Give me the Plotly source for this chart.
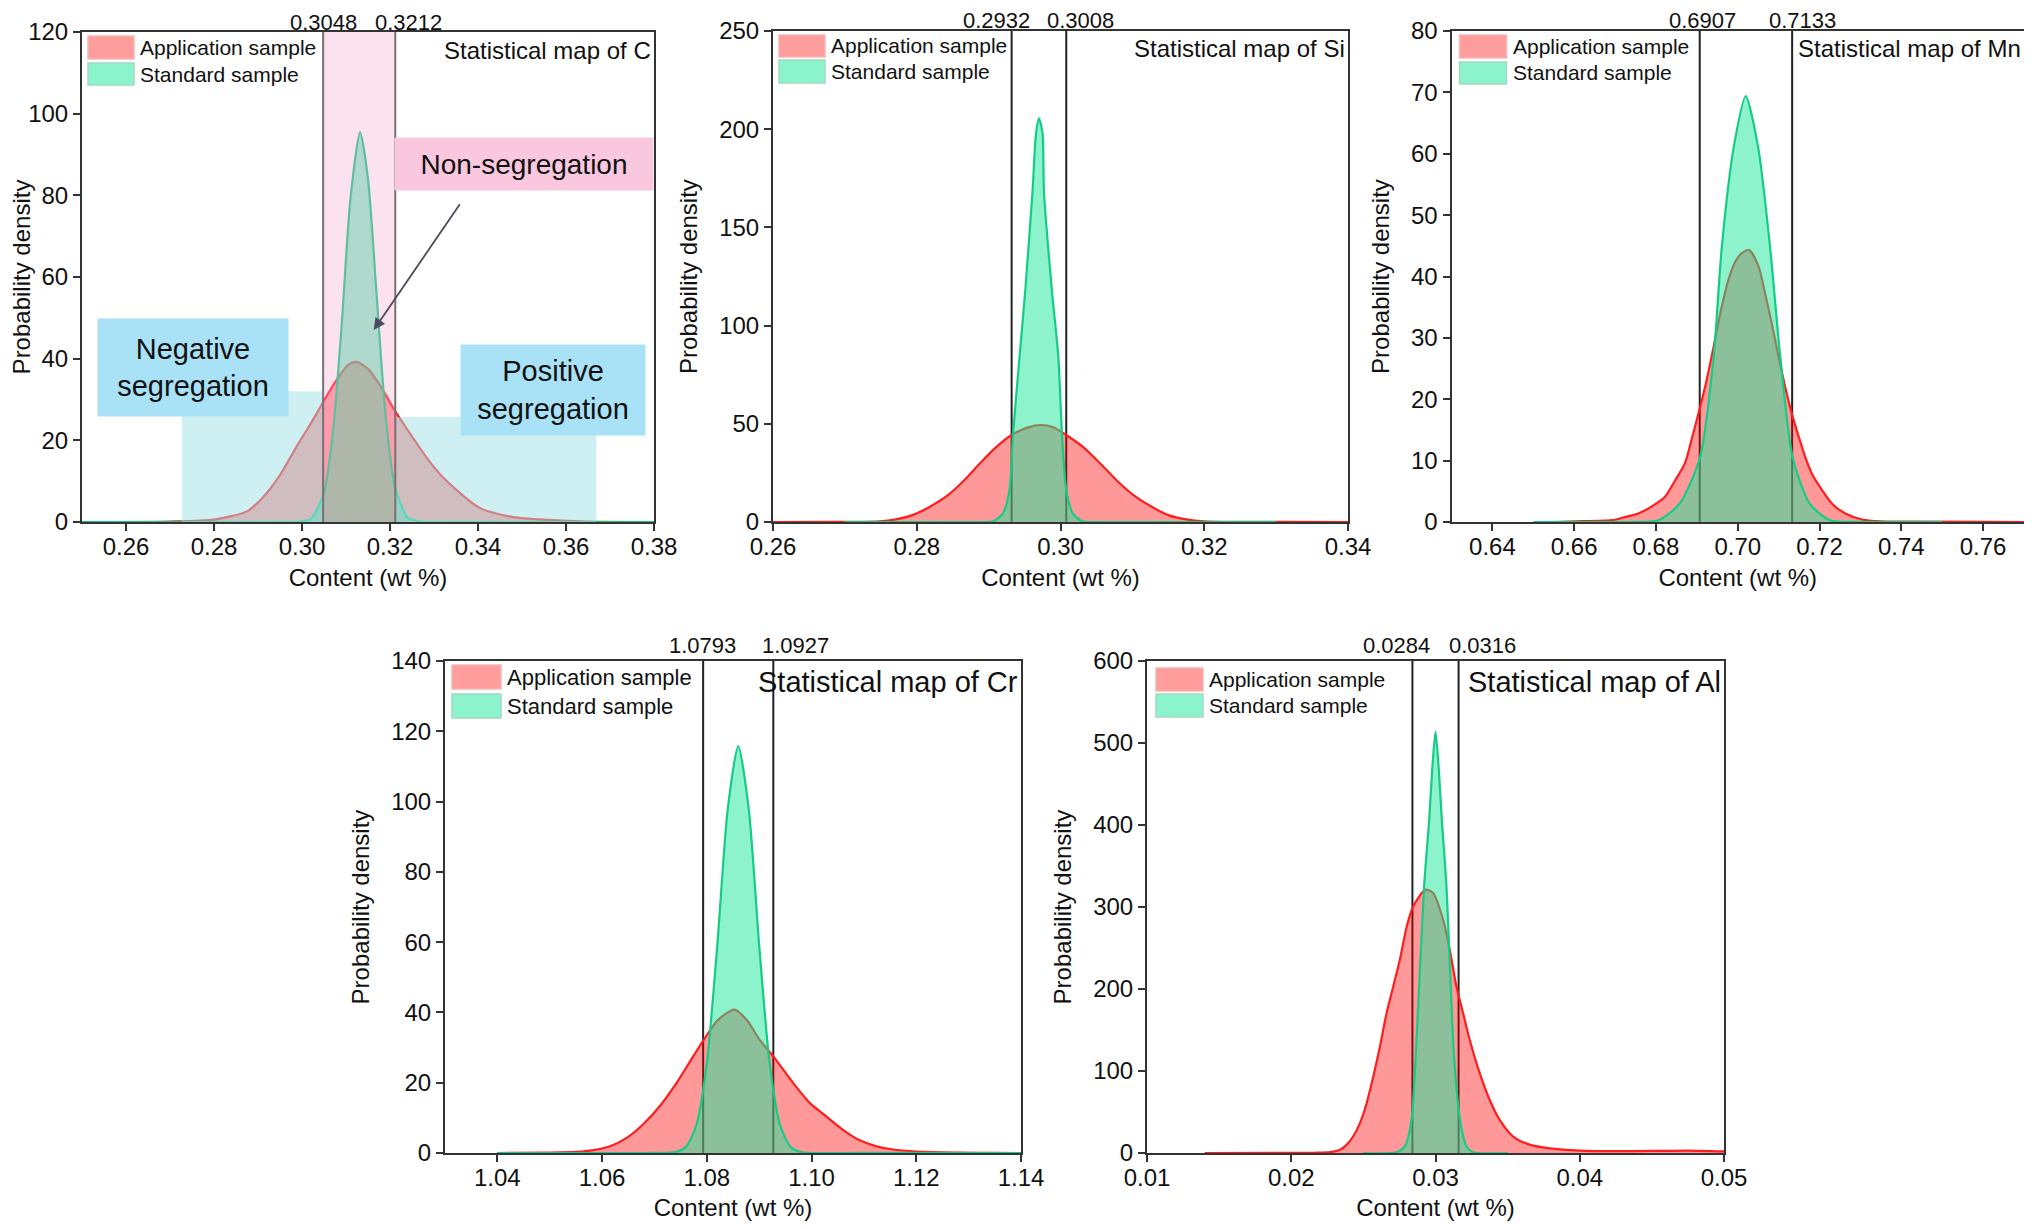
import plotly.graph_objects as go

# the page body adds an 8 px margin, so the figure is drawn 8 px in from the window corner
PAGE_OFFSET = 8
W, H = 2032 - 2 * PAGE_OFFSET, 1229 - 2 * PAGE_OFFSET
FONT = "Liberation Sans, Arial, sans-serif"

# ---------------- data ----------------
elements = ["C", "Si", "Mn", "Cr", "Al"]

# C
c_app_x = [0.25, 0.27, 0.28, 0.2875, 0.291, 0.295, 0.299, 0.3025, 0.3048, 0.308, 0.3105, 0.3124,
           0.315, 0.318, 0.3208, 0.3253, 0.329, 0.333, 0.3405, 0.348, 0.356, 0.365, 0.38]
c_app_y = [0, 0.1, 0.6, 2.6, 5.9, 11.5, 18.9, 25, 29.4, 35, 38.5, 39.2,
           37.5, 33, 27.8, 20.5, 14.8, 9.9, 3.4, 1.2, 0.5, 0.1, 0]
c_std_x = [0.25, 0.295, 0.299, 0.302, 0.305, 0.307, 0.309, 0.311, 0.3132, 0.315, 0.317, 0.319,
           0.3211, 0.324, 0.327, 0.331, 0.38]
c_std_y = [0, 0, 0.05, 0.75, 7.2, 21.7, 48, 79, 95.5, 84, 55, 26,
           8.7, 1.1, 0.07, 0, 0]

# Si
si_app_x = [0.26, 0.270, 0.2748, 0.2771, 0.2794, 0.2817, 0.2841, 0.2864, 0.2887, 0.2910, 0.2932,
            0.2955, 0.2972, 0.2990, 0.3008, 0.3032, 0.3056, 0.3080, 0.3104, 0.3128, 0.3150, 0.3175,
            0.320, 0.325, 0.34]
si_app_y = [0, 0.05, 0.3, 1.3, 3.5, 7.5, 13, 20.5, 29.5, 38, 44.3,
            48.2, 49.4, 48.2, 44.3, 38, 29.5, 20.5, 13, 7.5, 3.5, 1.3,
            0.3, 0.05, 0]
si_std_x = [0.27, 0.2887, 0.2906, 0.2920, 0.2929, 0.2934, 0.2943, 0.2951, 0.2961, 0.2966, 0.2970,
            0.2975, 0.2977, 0.2988, 0.2997, 0.3002, 0.3008, 0.3017, 0.3031, 0.305, 0.33]
si_std_y = [0, 0, 0.2, 4.4, 16.3, 45, 84, 118, 168, 198, 205.5,
            198, 168, 118, 84, 45, 16.3, 4.4, 0.2, 0, 0]

# Mn
mn_app_x = [0.655, 0.660, 0.6692, 0.6724, 0.6757, 0.6789, 0.6822, 0.6847, 0.6871, 0.6887, 0.6904,
            0.6920, 0.6936, 0.6949, 0.6961, 0.6977, 0.6994, 0.7010, 0.7028, 0.7051, 0.7067, 0.7083,
            0.7100, 0.7116, 0.7132, 0.7149, 0.7165, 0.7181, 0.7206, 0.7230, 0.7263, 0.7304, 0.7350,
            0.745, 0.770]
mn_app_y = [0, 0.1, 0.3, 0.8, 1.4, 2.5, 4.1, 6.8, 9.6, 13.4, 17.7,
            22, 26.9, 31.3, 35.1, 39.4, 42.4, 43.8, 44.3, 41.6, 37.2, 32.4,
            26.9, 22, 17.7, 13.9, 10.6, 7.9, 5.2, 3, 1.4, 0.4, 0.1,
            0.05, 0]
mn_std_x = [0.650, 0.675, 0.6807, 0.6858, 0.6908, 0.6941, 0.6961, 0.6990, 0.70195, 0.7050, 0.7079,
            0.7104, 0.7134, 0.7176, 0.7225, 0.730, 0.750]
mn_std_y = [0, 0.02, 0.3, 3, 10.6, 26.9, 44.8, 61, 69.4, 61, 44.8,
            26.9, 10.6, 3, 0.3, 0.02, 0]

# Cr
cr_app_x = [1.040, 1.050, 1.0551, 1.0583, 1.0615, 1.0647, 1.0678, 1.0710, 1.0742, 1.0774, 1.0794,
            1.0819, 1.0838, 1.0853, 1.0876, 1.0901, 1.0927, 1.0965, 1.0997, 1.1028, 1.1060, 1.1092,
            1.1124, 1.1156, 1.1219, 1.1283, 1.135, 1.140]
cr_app_y = [0, 0.1, 0.3, 0.8, 1.9, 4.3, 8.1, 13.3, 19.9, 27.5, 32.2,
            37.5, 39.8, 40.8, 37.9, 32.2, 27.5, 19.9, 14.2, 10.4, 6.6, 3.6,
            1.9, 1.0, 0.3, 0.1, 0.02, 0]
cr_std_x = [1.040, 1.070, 1.074, 1.076, 1.078, 1.080, 1.082, 1.084, 1.086, 1.088, 1.090,
            1.092, 1.094, 1.096, 1.098, 1.110, 1.140]
cr_std_y = [0, 0.01, 0.27, 1.74, 7.9, 25.5, 59.1, 97.9, 115.8, 97.9, 59.1,
            25.5, 7.9, 1.74, 0.27, 0.01, 0]

# Al
al_app_x = [0.014, 0.020, 0.0216, 0.0227, 0.02339, 0.02385, 0.0243, 0.02477, 0.02523, 0.02569,
            0.02615, 0.02661, 0.02707, 0.02753, 0.0280, 0.02845, 0.02929, 0.02983, 0.03053, 0.03099,
            0.03145, 0.03191, 0.03237, 0.03306, 0.03375, 0.03444, 0.03536, 0.03652, 0.03767,
            0.03882, 0.03997, 0.0425, 0.045, 0.0475, 0.050]
al_app_y = [0, 0.1, 0.3, 1, 4.1, 10.2, 20.4, 36.7, 61, 93.5,
            130, 170.7, 203, 235.6, 276, 300.6, 321, 317, 284.4, 247.8,
            203, 170.7, 138.2, 97.6, 65, 40.7, 20.4, 10.2, 6.2,
            4.1, 2.9, 2.2, 2.5, 3, 2]
al_std_x = [0.025, 0.0273, 0.02788, 0.02834, 0.02864, 0.02921, 0.02956, 0.02977, 0.0300, 0.03023,
            0.03044, 0.03076, 0.03127, 0.0317, 0.03214, 0.0326, 0.035]
al_std_y = [0, 1, 8.2, 40.7, 122, 325, 406, 467, 513.8, 467,
            406, 325, 122, 40.7, 8.2, 1, 0]

# thresholds (non-segregation interval)
c_limits = [0.3048, 0.3212]
si_limits = [0.2932, 0.3008]
mn_limits = [0.6907, 0.7133]
cr_limits = [1.0793, 1.0927]
al_limits = [0.0284, 0.0316]
limit_labels = [["0.3048", "0.3212"], ["0.2932", "0.3008"], ["0.6907", "0.7133"],
                ["1.0793", "1.0927"], ["0.0284", "0.0316"]]

# axis ranges / ticks
x_ranges = [[0.25, 0.38], [0.26, 0.34], [0.63, 0.77], [1.03, 1.14], [0.01, 0.05]]
x_ticks = [[0.26, 0.28, 0.30, 0.32, 0.34, 0.36, 0.38],
           [0.26, 0.28, 0.30, 0.32, 0.34],
           [0.64, 0.66, 0.68, 0.70, 0.72, 0.74, 0.76],
           [1.04, 1.06, 1.08, 1.10, 1.12, 1.14],
           [0.01, 0.02, 0.03, 0.04, 0.05]]
y_ranges = [[0, 120], [0, 250], [0, 80], [0, 140], [0, 600]]
y_dticks = [20, 50, 10, 20, 100]

series_names = ["Application sample", "Standard sample"]

app_x = [c_app_x, si_app_x, mn_app_x, cr_app_x, al_app_x]
app_y = [c_app_y, si_app_y, mn_app_y, cr_app_y, al_app_y]
std_x = [c_std_x, si_std_x, mn_std_x, cr_std_x, al_std_x]
std_y = [c_std_y, si_std_y, mn_std_y, cr_std_y, al_std_y]
limits = [c_limits, si_limits, mn_limits, cr_limits, al_limits]

# ---------------- layout geometry (window pixels) ----------------
# (left, right, top, bottom) of each plotting frame
frames = [(82, 654, 32, 522), (773, 1348, 31, 522), (1451.5, 2024, 31, 522),
          (445, 1021, 661, 1153), (1147, 1724, 661, 1153)]

RED_LINE = "#FF1E1E"
RED_FILL = "rgba(255,0,0,0.40)"
GRN_LINE = "#15CC85"
GRN_FILL = "rgba(26,232,155,0.50)"
AX = "#333333"

fig = go.Figure()
shapes = []
annotations = []

for i, el in enumerate(elements):
    n = "" if i == 0 else str(i + 1)
    xa, ya = "x" + n, "y" + n
    L, R, T, B = [v - PAGE_OFFSET for v in frames[i]]
    fig.add_trace(go.Scatter(x=app_x[i], y=app_y[i], mode="lines", fill="tozeroy",
                             fillcolor=RED_FILL,
                             line=dict(color=RED_LINE, width=2.2, shape="spline", smoothing=0.7),
                             name=series_names[0], showlegend=False, xaxis=xa, yaxis=ya))
    fig.add_trace(go.Scatter(x=std_x[i], y=std_y[i], mode="lines", fill="tozeroy",
                             fillcolor=GRN_FILL,
                             line=dict(color=GRN_LINE, width=2.2, shape="spline", smoothing=0.7),
                             name=series_names[1], showlegend=False, xaxis=xa, yaxis=ya))

    big = i >= 3
    fig.layout["xaxis" + n] = dict(
        domain=[max(0, L / W), min(1, R / W)], anchor=ya, range=x_ranges[i], tickvals=x_ticks[i],
        tickformat=".2f", ticks="outside", ticklen=7, tickwidth=2, tickcolor=AX,
        ticklabelstandoff=-5,
        showline=True, linecolor=AX, linewidth=2, mirror=True, showgrid=False, zeroline=False,
        automargin=False,
        tickfont=dict(family=FONT, size=24, color="#111"),
        title=dict(text="Content (wt %)", font=dict(family=FONT, size=24, color="#111"), standoff=10),
    )
    fig.layout["yaxis" + n] = dict(
        domain=[max(0, 1 - B / H), min(1, 1 - T / H)], anchor=xa, range=y_ranges[i], dtick=y_dticks[i],
        ticks="outside", ticklen=7, tickwidth=2, tickcolor=AX,
        showline=True, linecolor=AX, linewidth=2, mirror=True, showgrid=False, zeroline=False,
        automargin=False,
        tickfont=dict(family=FONT, size=24, color="#111"),
        title=dict(text="Probability density", font=dict(family=FONT, size=24, color="#111"), standoff=15),
    )

    # threshold lines
    lc = "#7a6f74" if i == 0 else "#222222"
    for t in limits[i]:
        shapes.append(dict(type="line", xref=xa, yref=ya + " domain", x0=t, x1=t, y0=0, y1=1,
                           line=dict(color=lc, width=2), layer="below" if i else "above"))
    # threshold labels
    shifts = [[0, 13], [-15, 14], [3, 10], [-1, 22], [-16, 24]][i]
    for t, lab, s in zip(limits[i], limit_labels[i], shifts):
        annotations.append(dict(x=t, y=1, xref=xa, yref=ya + " domain", text=lab, showarrow=False,
                                xanchor="center", yanchor="middle", xshift=s, borderpad=0,
                                yshift=16 if big else 10,
                                font=dict(family=FONT, size=22, color="#111")))
    # panel title
    annotations.append(dict(x=1, y=1, xref=xa + " domain", yref=ya + " domain",
                            text="Statistical map of " + el, showarrow=False,
                            xanchor="right", yanchor="middle", xshift=-1,
                            yshift=-21 if big else -18,
                            font=dict(family=FONT, size=29 if big else 24, color="#111")))
    # legend (swatches + text)
    sw = [(6, 52, 4, 27, 31, 53, 56, 21), (6, 52, 4, 26, 29, 52, 56, 21), (8, 55, 4, 27, 31, 53, 59, 21),
          (7, 56, 4, 28, 33, 57, 60, 22), (9, 56, 7, 30, 33, 56, 60, 21)][i]
    x0s, x1s, a0, a1, b0, b1, tx, fs = sw
    for (y0, y1, fc, lcol, name) in [(a0, a1, "#FF9C9C", "#F3B7B7", series_names[0]),
                                     (b0, b1, "#8CF4CC", "#A3D9C2", series_names[1])]:
        shapes.append(dict(type="rect", xref=xa + " domain", yref=ya + " domain",
                           xsizemode="pixel", ysizemode="pixel", xanchor=0, yanchor=1,
                           x0=x0s, x1=x1s, y0=-y0, y1=-y1, fillcolor=fc,
                           line=dict(color=lcol, width=1.5), layer="above"))
        annotations.append(dict(x=0, y=1, xref=xa + " domain", yref=ya + " domain", text=name,
                                showarrow=False, xanchor="left", yanchor="middle",
                                xshift=tx, yshift=-(y0 + y1) / 2,
                                font=dict(family=FONT, size=fs, color="#111")))

# ---------------- panel C decorations ----------------
shapes.insert(0, dict(type="rect", xref="x", yref="y", x0=0.2727, x1=0.3048, y0=0, y1=32,
                      fillcolor="rgba(160,225,232,0.50)", line=dict(width=0), layer="above"))
shapes.insert(0, dict(type="rect", xref="x", yref="y", x0=0.3212, x1=0.3669, y0=0, y1=25.7,
                      fillcolor="rgba(160,225,232,0.50)", line=dict(width=0), layer="above"))
shapes.insert(0, dict(type="rect", xref="x", yref="y domain", x0=0.3048, x1=0.3212, y0=0, y1=1,
                      fillcolor="rgba(245,165,205,0.33)", line=dict(width=0), layer="above"))

annotations += [
    dict(x=0.2752, y=37.9, xref="x", yref="y", text="Negative<br>segregation", showarrow=False,
         width=190, height=97, bgcolor="#A9E2F6", borderpad=0,
         font=dict(family=FONT, size=29, color="#111")),
    dict(x=0.3570, y=32.25, xref="x", yref="y", text="Positive<br>segregation", showarrow=False,
         width=184, height=90, bgcolor="#A9E2F6", borderpad=0,
         font=dict(family=FONT, size=29, color="#111")),
    dict(x=0.3505, y=87.7, xref="x", yref="y", text="Non-segregation", showarrow=False,
         width=258, height=52, bgcolor="#F9C7DE", borderpad=0,
         font=dict(family=FONT, size=28, color="#111")),
    dict(x=0.3163, y=47, ax=0.3361, ay=78.2, xref="x", yref="y", axref="x", ayref="y",
         text="", showarrow=True, arrowhead=2, arrowsize=1.3, arrowwidth=1.8,
         arrowcolor="#4d4b5c"),
]

fig.update_layout(
    width=W, height=H, margin=dict(l=0, r=0, t=0, b=0),
    paper_bgcolor="white", plot_bgcolor="white",
    shapes=shapes, annotations=annotations, showlegend=False,
    font=dict(family=FONT, color="#111"),
)

fig.write_html("out.html")
